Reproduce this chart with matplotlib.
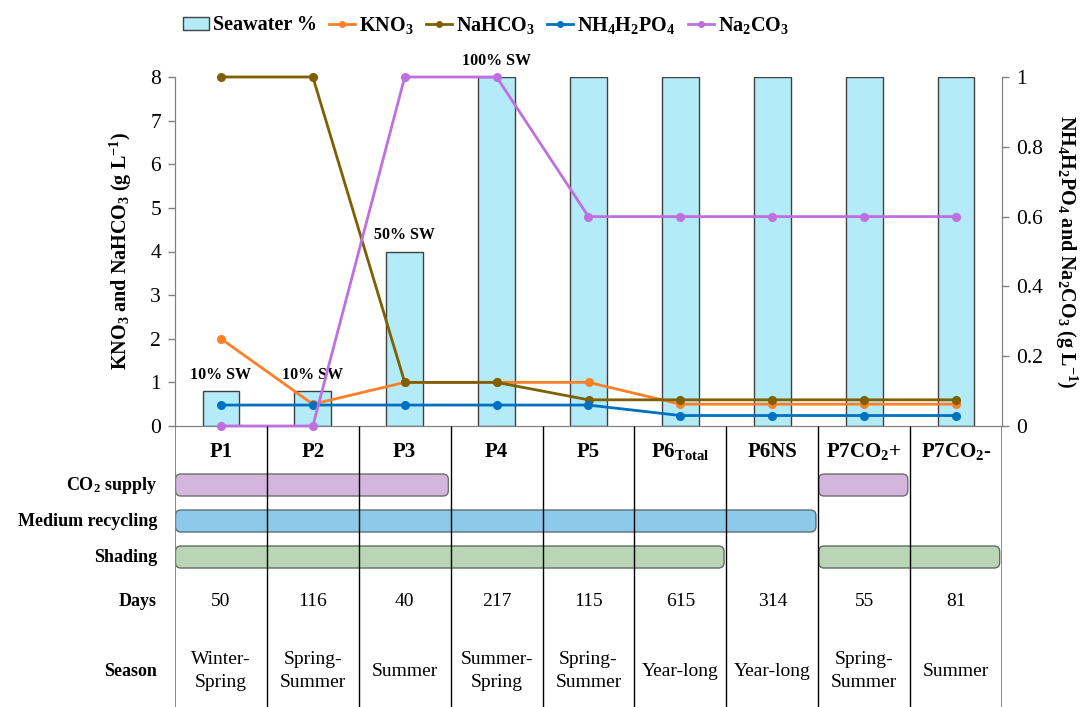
import numpy as np
import matplotlib
matplotlib.use("Agg")
import matplotlib.pyplot as plt
import matplotlib.transforms as mtransforms
from matplotlib.patches import FancyBboxPatch, Patch
from matplotlib.lines import Line2D

plt.rcParams["font.family"] = "serif"
plt.rcParams["font.serif"] = ["Liberation Serif", "DejaVu Serif"]
plt.rcParams["mathtext.default"] = "regular"

# data
periods = ["P1", "P2", "P3", "P4", "P5", "P6$_{Total}$", "P6NS", "P7CO$_2$+", "P7CO$_2$-"]
seawater_pct = [10, 10, 50, 100, 100, 100, 100, 100, 100]
sw_labels = ["10% SW", "10% SW", "50% SW", "100% SW", "", "", "", "", ""]
kno3 = [2, 0.5, 1, 1, 1, 0.5, 0.5, 0.5, 0.5]
nahco3 = [8, 8, 1, 1, 0.6, 0.6, 0.6, 0.6, 0.6]
nh4h2po4 = [0.06, 0.06, 0.06, 0.06, 0.06, 0.03, 0.03, 0.03, 0.03]
na2co3 = [0, 0, 1, 1, 0.6, 0.6, 0.6, 0.6, 0.6]
days = [50, 116, 40, 217, 115, 615, 314, 55, 81]
seasons = ["Winter-\nSpring", "Spring-\nSummer", "Summer", "Summer-\nSpring", "Spring-\nSummer",
           "Year-long", "Year-long", "Spring-\nSummer", "Summer"]
# (first, last) period index of each span
co2_supply = [(0, 2), (7, 7)]
medium_recycling = [(0, 6)]
shading = [(0, 5), (7, 8)]

W, H = 1083, 707
fig = plt.figure(figsize=(W / 100, H / 100), dpi=100)

# main chart
ax = fig.add_axes([175 / W, (H - 426) / H, 827 / W, (426 - 77) / H])
x = np.arange(len(periods))
bar_fc = "#B3EBF9"
ax.bar(x, np.array(seawater_pct) / 100 * 8, width=0.4, color=bar_fc, edgecolor="#404040",
       linewidth=1, zorder=1)
for xi, v, lab in zip(x, seawater_pct, sw_labels):
    if lab:
        ax.annotate(lab, (xi, v / 100 * 8), xytext=(0, 6), textcoords="offset points",
                    ha="center", va="bottom", fontsize=11.5, fontweight="bold")

c_kno3, c_nahco3, c_nh4, c_na2 = "#FF7F27", "#7F6000", "#0070C0", "#BF6FDF"
lk = dict(marker="o", ms=5.5, lw=2, clip_on=False)
ax.plot(x, kno3, color=c_kno3, zorder=3, **lk)
ax.plot(x, nahco3, color=c_nahco3, zorder=4, **lk)

ax2 = ax.twinx()
ax2.plot(x, nh4h2po4, color=c_nh4, zorder=3, **lk)
ax2.plot(x, na2co3, color=c_na2, zorder=4, **lk)

ax.set_xlim(-0.5, 8.5)
ax.set_ylim(0, 8)
ax2.set_ylim(0, 1)
ax.set_xticks([])
ax.set_yticks(range(0, 9))
ax2.set_yticks([0, 0.2, 0.4, 0.6, 0.8, 1])
ax2.set_yticklabels(["0", "0.2", "0.4", "0.6", "0.8", "1"])

for a in (ax, ax2):
    a.spines["top"].set_visible(False)
    for s in ("left", "right", "bottom"):
        a.spines[s].set_color("#808080")
    a.tick_params(axis="y", direction="out", length=5, width=1, color="#808080",
                  labelsize=15.5, pad=5)

ax.set_ylabel("KNO$_3$ and NaHCO$_3$ (g L$^{-1}$)", fontsize=14.5, fontweight="bold",
              va="center")
ax.yaxis.set_label_coords(-0.066, 0.5)
ax2.set_ylabel("NH$_4$H$_2$PO$_4$ and Na$_2$CO$_3$ (g L$^{-1}$)", fontsize=14.5,
               fontweight="bold", rotation=270, va="center")
ax2.yaxis.set_label_coords(1.078, 0.5)

handles = [Patch(facecolor=bar_fc, edgecolor="#404040"),
           Line2D([], [], color=c_kno3, marker="o", ms=4, lw=2),
           Line2D([], [], color=c_nahco3, marker="o", ms=4, lw=2),
           Line2D([], [], color=c_nh4, marker="o", ms=4, lw=2),
           Line2D([], [], color=c_na2, marker="o", ms=4, lw=2)]
labels = ["Seawater %", "KNO$_3$", "NaHCO$_3$", "NH$_4$H$_2$PO$_4$", "Na$_2$CO$_3$"]
fig.legend(handles, labels, loc="center", bbox_to_anchor=(486 / W, 1 - 25 / H), ncol=5,
           frameon=False, prop={"weight": "bold", "size": 14.5}, handlelength=1.3,
           handleheight=0.6, handletextpad=0.2, columnspacing=0.6)

# table below the chart, y in pixels from the x axis down
tab_h = H - 426
tab = fig.add_axes([175 / W, 0, 827 / W, tab_h / H])
tab.set_xlim(-0.5, 8.5)
tab.set_ylim(tab_h, 0)
tab.axis("off")

bounds = np.arange(-0.5, len(periods), 1)
tab.vlines(bounds[1:-1], 0, tab_h, colors="black", linewidth=1)
tab.vlines([bounds[0], bounds[-1]], 0, tab_h, colors="#808080", linewidth=1.3)

col_px = 827 / len(periods)
asp = col_px  # y units (px) per x unit


def spans(rows, y0, fc, ec):
    for a0, a1 in rows:
        p = FancyBboxPatch((a0 - 0.5 + 0.005, y0), a1 - a0 + 1 - 0.03, 22,
                           boxstyle="round,pad=0,rounding_size=0.06", mutation_aspect=asp,
                           facecolor=fc, edgecolor=ec, linewidth=1)
        tab.add_patch(p)


spans(co2_supply, 48, "#D3B5DD", "#6E6E6E")
spans(medium_recycling, 84, "#8DC9E8", "#5A6E7A")
spans(shading, 120, "#B9D5B5", "#5E6E5E")

for i, p in enumerate(periods):
    tab.text(i, 31, p, ha="center", va="baseline", fontsize=15, fontweight="bold")
    tab.text(i, 176, str(days[i]), ha="center", va="center", fontsize=14)
    tab.text(i, 245, seasons[i], ha="center", va="center", fontsize=14, linespacing=1.45)

trans = mtransforms.blended_transform_factory(tab.transAxes, tab.transData)
row_labels = [("CO$_2$ supply", 59), ("Medium recycling", 95), ("Shading", 131),
              ("Days", 176), ("Season", 245)]
for lab, yy in row_labels:
    tab.text(-18 / 827, yy, lab, transform=trans, ha="right", va="center", fontsize=13,
             fontweight="bold")

fig.savefig("out.png", dpi=100)
